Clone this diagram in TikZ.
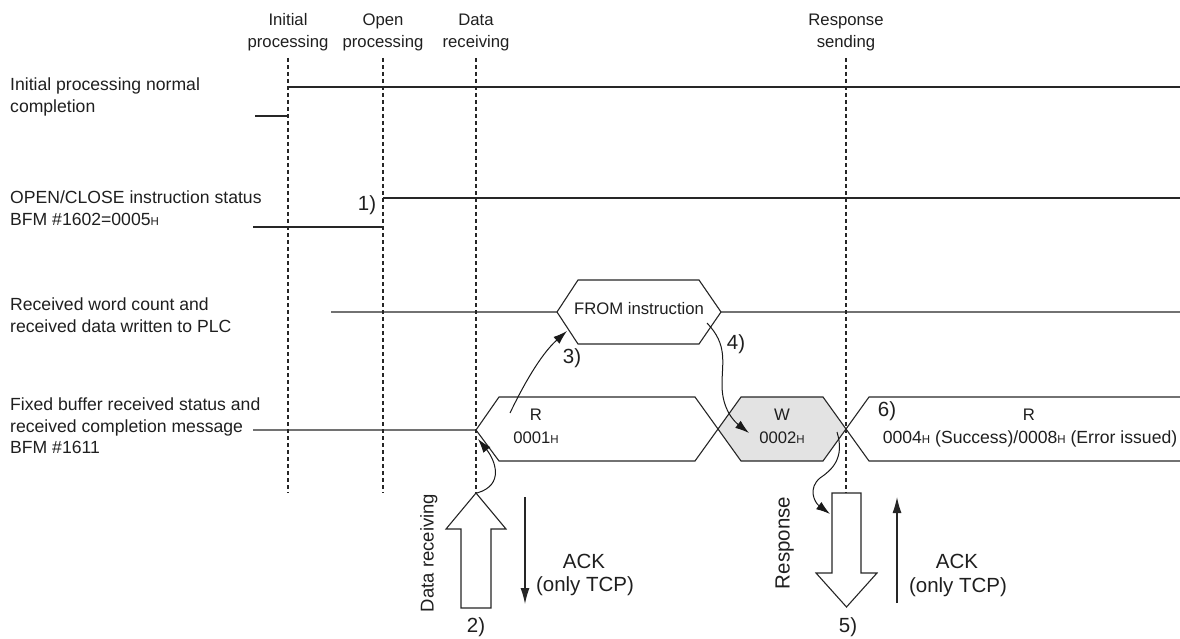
\documentclass[tikz,border=0pt]{standalone}
\usepackage{fontspec}
\setmainfont{Liberation Sans}
\usetikzlibrary{arrows.meta}
\newcommand\hsub{{\fontsize{11.5}{11.5}\selectfont H}}
\begin{document}
\begin{tikzpicture}[x=1pt,y=-1pt,
  lbl/.style={font=\fontsize{16.7}{20}\selectfont, inner sep=0pt, text=black!88},
  side/.style={font=\fontsize{17.6}{21}\selectfont, inner sep=0pt, text=black!88},
  big/.style={font=\fontsize{20.5}{24}\selectfont, inner sep=0pt, text=black!88},
  sig/.style={line width=1.1pt, draw=black!85},
  guide/.style={line width=1.8pt, dash pattern=on 4pt off 3pt, draw=black!85},
  cur/.style={line width=1pt, draw=black!90, -{Latex[length=14pt,width=9pt]}},
  ack/.style={line width=1.1pt, draw=black!85, -{Latex[length=16pt,width=9pt]}},
]
\useasboundingbox (0,0) rectangle (1180,639);

% ---- guide lines
\coordinate (g1t) at (288,58);  \coordinate (g1b) at (288,493);
\coordinate (g2t) at (383,58);  \coordinate (g2b) at (383,493);
\coordinate (g3t) at (476,58);  \coordinate (g3b) at (476,493);
\coordinate (g4t) at (846,58);  \coordinate (g4b) at (846,493);
\draw[guide] (g1t) -- (g1b);
\draw[guide] (g2t) -- (g2b);
\draw[guide] (g3t) -- (g3b);
\draw[guide] (g4t) -- (g4b);

% ---- top labels
\node[lbl,anchor=mid] (t1a) at (288,23) {Initial};
\node[lbl,anchor=mid] (t1b) at (288,45) {processing};
\node[lbl,anchor=mid] (t2a) at (383,23) {Open};
\node[lbl,anchor=mid] (t2b) at (383,45) {processing};
\node[lbl,anchor=mid] (t3a) at (476,23) {Data};
\node[lbl,anchor=mid] (t3b) at (476,45) {receiving};
\node[lbl,anchor=mid] (t4a) at (846,23) {Response};
\node[lbl,anchor=mid] (t4b) at (846,45) {sending};

% ---- left labels
\node[side,anchor=mid west] (l1a) at (10,88) {Initial processing normal};
\node[side,anchor=mid west] (l1b) at (10,110) {completion};
\node[side,anchor=mid west] (l2a) at (10,201) {OPEN/CLOSE instruction status};
\node[side,anchor=mid west] (l2b) at (10,223) {BFM \#1602=0005\hsub};
\node[side,anchor=mid west] (l3a) at (10,308) {Received word count and};
\node[side,anchor=mid west] (l3b) at (10,330) {received data written to PLC};
\node[side,anchor=mid west] (l4a) at (10,408) {Fixed buffer received status and};
\node[side,anchor=mid west] (l4b) at (10,430) {received completion message};
\node[side,anchor=mid west] (l4c) at (10,451) {BFM \#1611};

% ---- row 1
\draw[sig] (255,116) -- (288,116);
\draw[sig] (288,87) -- (1180,87);

% ---- row 2
\draw[sig] (253,227) -- (383,227);
\draw[sig] (383,198) -- (1180,198);
\node[big,anchor=mid] (n1) at (367,208) {1)};

% ---- row 3
\draw[sig] (331,312) -- (557,312) -- (578,280) -- (699,280) -- (721,312) -- (1180,312);
\draw[sig] (557,312) -- (578,344) -- (699,344) -- (721,312);
\node[lbl,anchor=mid] (from) at (639,312) {FROM instruction};

% ---- row 4
\fill[black!11] (718,429) -- (741,397) -- (823,397) -- (846,429) -- (823,461) -- (741,461) -- cycle;
\draw[sig] (253,430) -- (476,430) -- (499,397) -- (695,397) -- (741,461) -- (823,461) -- (869,397) -- (1180,397);
\draw[sig] (476,430) -- (499,461) -- (695,461) -- (741,397) -- (823,397) -- (869,461) -- (1180,461);
\node[lbl,anchor=mid] (r1a) at (536,418) {R};
\node[lbl,anchor=mid] (r1b) at (536,441) {0001\hsub};
\node[lbl,anchor=mid] (w1a) at (782,418) {W};
\node[lbl,anchor=mid] (w1b) at (782,441) {0002\hsub};
\node[big,anchor=mid] (n6) at (887,414) {6)};
\node[lbl,anchor=mid] (r3a) at (1029,418) {R};
\node[side,anchor=mid] (r3b) at (1030,441) {0004\hsub{} (Success)/0008\hsub{} (Error issued)};

% ---- curved connectors
\coordinate (c3s) at (510,413); \coordinate (c3e) at (567,331);
\draw[cur] (c3s) .. controls (522,388) and (540,355) .. (c3e);
\node[big,anchor=mid] (n3) at (572,361) {3)};

\coordinate (c4s) at (707,323); \coordinate (c4e) at (749,433);
\draw[cur] (c4s) .. controls (728,345) and (722,362) .. (722,385) .. controls (722,410) and (735,422) .. (c4e);
\node[big,anchor=mid] (n4) at (736,347) {4)};

\coordinate (c2s) at (477,493); \coordinate (c2e) at (478,439);
\draw[cur] (c2s) .. controls (505,485) and (495,460) .. (c2e);

\coordinate (c5s) at (837,432); \coordinate (c5e) at (830,514);
\draw[cur] (c5s) .. controls (845,458) and (832,470) .. (820,478) .. controls (808,488) and (814,502) .. (c5e);

% ---- hollow arrows
\draw[sig, fill=white] (461,608) -- (491,608) -- (491,529) -- (506,529) -- (476,493) -- (446,529) -- (461,529) -- cycle;
\draw[sig, fill=white] (832,493) -- (861,493) -- (861,573) -- (877,573) -- (846.5,607) -- (816,573) -- (832,573) -- cycle;
\node[big,anchor=mid,rotate=90,font=\fontsize{18.5}{22}\selectfont] (dr) at (431,553) {Data receiving};
\node[big,anchor=mid,rotate=90] (rs) at (787,543) {Response};
\node[big,anchor=mid] (n2) at (476,630) {2)};
\node[big,anchor=mid] (n5) at (848,630) {5)};

% ---- ACK arrows
\coordinate (a1s) at (525,497); \coordinate (a1e) at (525,604);
\draw[ack] (a1s) -- (a1e);
\node[big,anchor=mid] (ack1a) at (584,566) {ACK};
\node[big,anchor=mid] (ack1b) at (585,589) {(only TCP)};
\coordinate (a2s) at (897,603); \coordinate (a2e) at (897,497);
\draw[ack] (a2s) -- (a2e);
\node[big,anchor=mid] (ack2a) at (957,566) {ACK};
\node[big,anchor=mid] (ack2b) at (958,590) {(only TCP)};
\end{tikzpicture}
\end{document}
